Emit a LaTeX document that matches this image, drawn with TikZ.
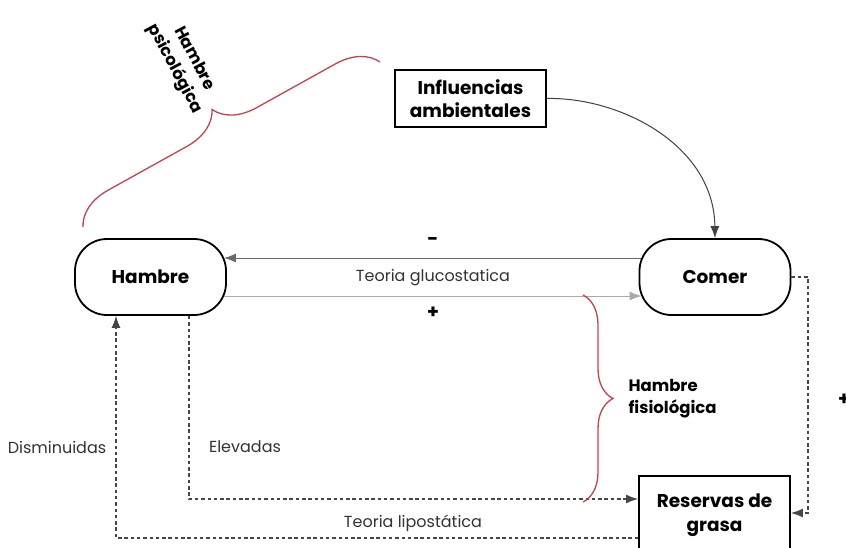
\documentclass[tikz,border=0pt]{standalone}
\usepackage{fontspec}
\setmainfont{Poppins}
\usetikzlibrary{arrows.meta,decorations.pathreplacing,calc}
\definecolor{bracered}{RGB}{196,68,78}
\definecolor{linedark}{RGB}{105,105,105}
\definecolor{linelight}{RGB}{170,170,170}
\definecolor{dashgray}{RGB}{70,70,70}
\begin{document}
\begin{tikzpicture}[x=1pt,y=-1pt,
  stadium/.style={draw=black, line width=1.8pt, rounded corners=32pt,
    minimum width=151pt, minimum height=76pt,
    font=\fontsize{18.5}{21}\selectfont\bfseries},
  squarebox/.style={draw=black, line width=1.8pt, align=center,
    font=\fontsize{18.5}{23.5}\selectfont\bfseries},
  tip/.style={-{Latex[length=12pt,width=9pt]}},
  solidlink/.style={line width=1pt},
  dashlink/.style={draw=dashgray, line width=1.2pt, dash pattern=on 3.5pt off 2.8pt},
  plainlabel/.style={font=\fontsize{16}{19}\selectfont, text=black!80},
  signlabel/.style={font=\fontsize{19}{19}\selectfont\bfseries},
  bracelabel/.style={font=\fontsize{16.5}{22}\selectfont\bfseries},
  bracestroke/.style={draw=bracered, line width=1.3pt, decorate},
]
\useasboundingbox (0,0) rectangle (846,548);
\fill[white] (0,0) rectangle (846,548);

% main nodes
\node[stadium] (hambre) at (150.5,277) {Hambre};
\node[stadium] (comer) at (715,277) {Comer};
\node[squarebox, minimum width=151pt, minimum height=57pt] (infl) at (470.5,98.5) {Influencias\\ambientales};
\node[squarebox, minimum width=151pt, minimum height=78pt] (grasa) at (714.5,515) {Reservas de\\grasa};

% glucostatic loop
\draw[solidlink, draw=linedark, tip] ($(comer.west)+(2,-19)$) -- ($(hambre.east)+(-3,-19)$);
\draw[solidlink, draw=linelight, tip] ($(hambre.east)+(-3,19)$) -- ($(comer.west)+(3,19)$);
\node[signlabel] (minus) at (433,241) {-};
\node[plainlabel] (gluco) at (433,278) {Teoria glucostatica};
\node[signlabel] (plus) at (433,313) {+};

% environmental influence
\draw[solidlink, draw=black!75, tip] (infl.east) .. controls (620,97) and (714,145) .. (comer.north);

% eating feeds fat stores
\coordinate (rj) at (808,277);
\coordinate (rk) at (808,513);
\draw[dashlink, tip] (comer.east) -- (rj) -- (rk) -- (grasa.east |- rk);
\node[signlabel] (plusright) at (844,400) {+};

% lipostatic loop
\coordinate (e1) at (189,499);
\draw[dashlink, tip] (hambre.south -| e1) -- (e1) -- (grasa.west |- e1);
\coordinate (d1) at (116,538);
\draw[dashlink, tip] (grasa.west |- d1) -- (d1) -- (hambre.south -| d1);
\node[plainlabel] (dism) at (57,447) {Disminuidas};
\node[plainlabel] (elev) at (245,447) {Elevadas};
\node[plainlabel] (lipo) at (413,523) {Teoria lipostática};

% braces
\draw[bracestroke, decoration={brace, amplitude=30pt}] (583,295) -- (583,502);
\node[bracelabel, anchor=west, align=left] (fisio) at (625,399) {Hambre\\fisiológica};
\draw[bracestroke, decoration={brace, amplitude=40pt}] (83,227) -- (380,62);
\node[bracelabel, rotate=-62, align=center] (psico) at (184,64) {Hambre\\psicológica};
\end{tikzpicture}
\end{document}
